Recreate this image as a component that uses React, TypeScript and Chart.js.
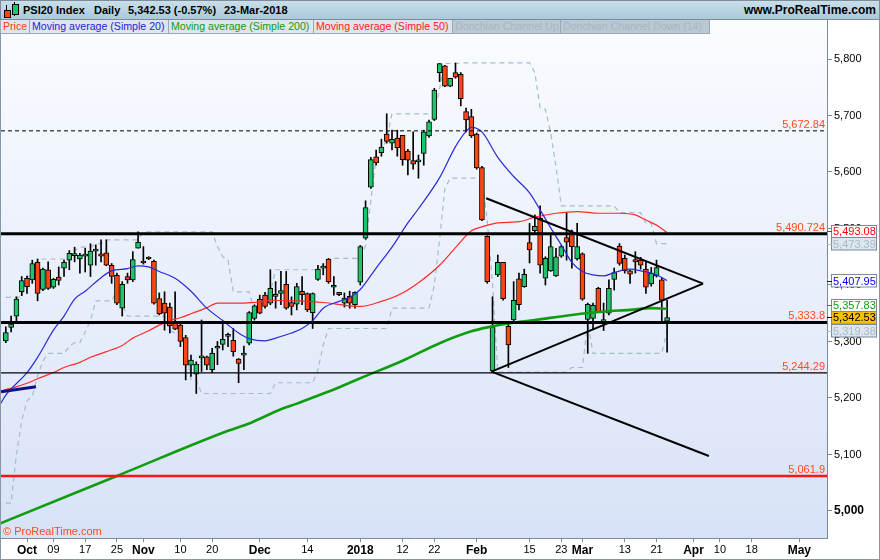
import React, { useEffect, useRef } from 'react';
import { Chart, registerables } from 'chart.js';

Chart.register(...registerables);

const FONT = '"Liberation Sans", Arial, Helvetica, sans-serif';

// Daily sessions: 0 = 26-Sep-2017 ... 125 = 23-Mar-2018
const OPEN = [
  5301, 5325, 5345, 5388, 5412, 5409, 5440, 5392, 5427, 5396,
  5414, 5430, 5444, 5452, 5446, 5451, 5435, 5460, 5455, 5457,
  5435, 5417, 5359, 5415, 5409, 5465, 5442, 5449, 5442, 5376,
  5368, 5361, 5333, 5329, 5307, 5258, 5242, 5271, 5273, 5250,
  5288, 5295, 5309, 5302, 5269, 5276, 5297, 5341, 5375, 5382,
  5368, 5380, 5385, 5401, 5369, 5366, 5389, 5385, 5351, 5410,
  5430, 5446, 5396, 5387, 5368, 5380, 5365, 5405, 5483, 5573,
  5627, 5634, 5667, 5651, 5660, 5665, 5637, 5620, 5618, 5633,
  5664, 5693, 5776, 5788, 5752, 5776, 5773, 5707, 5698, 5667,
  5608, 5486, 5248, 5418, 5440, 5327, 5338, 5411, 5397, 5475,
  5496, 5518, 5412, 5425, 5416, 5451, 5484, 5491, 5446, 5455,
  5339, 5341, 5394, 5333, 5350, 5410, 5469, 5447, 5425, 5445,
  5444, 5428, 5402, 5416, 5409, 5336,
];
const HIGH = [
  5326, 5345, 5379, 5415, 5416, 5444, 5446, 5430, 5441, 5412,
  5432, 5444, 5461, 5467, 5456, 5465, 5473, 5471, 5480, 5480,
  5438, 5421, 5406, 5421, 5459, 5494, 5468, 5450, 5444, 5386,
  5388, 5368, 5388, 5335, 5311, 5276, 5264, 5338, 5274, 5288,
  5300, 5331, 5315, 5323, 5270, 5292, 5353, 5365, 5382, 5387,
  5427, 5406, 5424, 5424, 5379, 5403, 5415, 5386, 5386, 5435,
  5438, 5447, 5415, 5387, 5386, 5389, 5388, 5470, 5549, 5626,
  5639, 5658, 5703, 5674, 5674, 5665, 5640, 5671, 5630, 5674,
  5692, 5748, 5792, 5789, 5766, 5793, 5776, 5713, 5711, 5669,
  5610, 5487, 5379, 5453, 5440, 5333, 5406, 5421, 5428, 5509,
  5524, 5540, 5450, 5488, 5465, 5470, 5528, 5497, 5509, 5457,
  5368, 5368, 5396, 5368, 5409, 5430, 5473.39, 5453, 5427, 5459,
  5449, 5441, 5431, 5444, 5412, 5373,
];
const LOW = [
  5298, 5317, 5337, 5381, 5385, 5403, 5372, 5390, 5392, 5394,
  5400, 5415, 5427, 5441, 5421, 5423, 5415, 5435, 5441, 5434,
  5403, 5365, 5345, 5403, 5406, 5465, 5437, 5445, 5366, 5347,
  5320, 5315, 5321, 5291, 5232, 5238, 5208, 5247, 5250, 5245,
  5259, 5285, 5291, 5274, 5227, 5250, 5294, 5338, 5349, 5359,
  5365, 5359, 5365, 5357, 5347, 5356, 5365, 5353, 5323, 5408,
  5418, 5403, 5382, 5381, 5361, 5359, 5359, 5400, 5481, 5571,
  5612, 5628, 5651, 5639, 5628, 5612, 5595, 5605, 5589, 5612,
  5661, 5691, 5760, 5751, 5751, 5766, 5717, 5671, 5661, 5605,
  5514, 5403, 5246, 5415, 5373, 5254, 5335, 5356, 5396, 5439,
  5491, 5421, 5400, 5424, 5415, 5449, 5444, 5430, 5444, 5373,
  5279, 5322, 5351, 5319.38, 5347, 5391, 5435, 5421, 5403, 5421,
  5428, 5385, 5398, 5414, 5335, 5281,
];
const CLOSE = [
  5316, 5331, 5375, 5408, 5397, 5438, 5385, 5428, 5394, 5410,
  5408, 5440, 5456, 5453, 5453, 5452, 5460, 5461, 5451, 5435,
  5415, 5368, 5401, 5409, 5445, 5476, 5439, 5446, 5368, 5349,
  5350, 5328, 5322, 5300, 5258, 5267, 5260, 5272, 5258, 5279,
  5289, 5304, 5309, 5282, 5261, 5276, 5351, 5363, 5350, 5362,
  5394, 5381, 5390, 5359, 5362, 5397, 5383, 5356, 5385, 5428,
  5430, 5406, 5396, 5383, 5377, 5368, 5387, 5468, 5537, 5622,
  5616, 5644, 5654, 5658, 5643, 5622, 5621, 5614, 5618, 5671,
  5689, 5745, 5792, 5752, 5766, 5768, 5730, 5692, 5664, 5607,
  5515, 5406, 5326, 5440, 5376, 5294, 5373, 5365, 5419, 5462,
  5504, 5435, 5447, 5468, 5450, 5468, 5476, 5468, 5468, 5375,
  5366, 5364, 5353, 5339, 5394, 5422, 5438, 5425, 5419, 5441,
  5435, 5396, 5421, 5431, 5373, 5342.53,
];

// Donchian channel (14), one value per session
const DONCHIAN_UP = [
  5378, 5378, 5378, 5379, 5415, 5416, 5444, 5446, 5446, 5446,
  5446, 5446, 5446, 5461, 5467, 5467, 5467, 5473, 5473, 5480,
  5480, 5480, 5480, 5480, 5480, 5480, 5494, 5494, 5494, 5494,
  5494, 5494, 5494, 5494, 5494, 5494, 5494, 5494, 5494, 5494,
  5468, 5450, 5444, 5388, 5388, 5388, 5388, 5353, 5365, 5382,
  5387, 5427, 5427, 5427, 5427, 5427, 5427, 5427, 5427, 5427,
  5435, 5438, 5447, 5447, 5447, 5447, 5447, 5447, 5470, 5549,
  5626, 5639, 5658, 5703, 5703, 5703, 5703, 5703, 5703, 5703,
  5703, 5703, 5748, 5792, 5792, 5792, 5793, 5793, 5793, 5793,
  5793, 5793, 5793, 5793, 5793, 5793, 5793, 5793, 5793, 5793,
  5776, 5713, 5711, 5669, 5610, 5540, 5540, 5540, 5540, 5540,
  5540, 5540, 5540, 5540, 5540, 5540, 5528, 5528, 5528, 5528,
  5528, 5509, 5509, 5473.39, 5473.39, 5473.39,
];
const DONCHIAN_DOWN = [
  5014, 5014, 5100, 5160, 5195, 5203, 5240, 5265, 5279, 5279,
  5279, 5279, 5291, 5298, 5298, 5317, 5337, 5372, 5372, 5372,
  5372, 5390, 5365, 5345, 5345, 5345, 5345, 5345, 5345, 5345,
  5345, 5320, 5315, 5315, 5291, 5232, 5232, 5208, 5208, 5208,
  5208, 5208, 5208, 5208, 5208, 5208, 5208, 5208, 5208, 5208,
  5208, 5227, 5227, 5227, 5227, 5227, 5227, 5227, 5227, 5250,
  5294, 5323, 5323, 5323, 5323, 5323, 5323, 5323, 5323, 5323,
  5323, 5323, 5323, 5359, 5359, 5359, 5359, 5359, 5359, 5359,
  5359, 5400, 5481, 5571, 5589, 5589, 5589, 5589, 5589, 5589,
  5589, 5514, 5403, 5246, 5246, 5246, 5246, 5246, 5246, 5246,
  5246, 5246, 5246, 5246, 5246, 5246, 5246, 5254, 5254, 5254,
  5335, 5279, 5279, 5279, 5279, 5279, 5279, 5279, 5279, 5279,
  5279, 5279, 5279, 5279, 5279, 5319.38,
];

// Moving averages, [session, value]
const SMA20: [number, number][] = [
  [-1, 5190], [0, 5205], [1, 5216], [4, 5245], [6, 5272], [9, 5320], [11, 5345],
  [13, 5375], [15, 5389], [18, 5413], [20, 5425], [23, 5429], [25, 5434], [27, 5432],
  [29, 5424], [32, 5412], [35, 5389], [38, 5359], [41, 5337], [44, 5315], [46, 5305],
  [49, 5301], [51, 5306], [54, 5315], [56, 5323], [58, 5337], [60, 5359], [63, 5371],
  [65, 5378], [67, 5392], [70, 5430], [73, 5467], [76, 5510], [78, 5535], [82, 5590],
  [85, 5645], [87, 5672], [88, 5679], [90, 5671], [93, 5626], [96, 5592], [99, 5563],
  [101, 5533], [103, 5501], [105, 5471], [107, 5440], [109, 5424], [111, 5418],
  [113, 5416], [115, 5422], [118, 5428], [120, 5425], [123, 5418], [125, 5407.95],
];
const SMA50: [number, number][] = [
  [-1, 5212], [0, 5215], [1, 5217], [4, 5226], [6, 5234], [9, 5245], [11, 5254],
  [14, 5263], [16, 5272], [19, 5282], [22, 5293], [24, 5306], [27, 5319], [29, 5329],
  [31, 5337], [33, 5342], [35, 5349], [38, 5360], [40, 5368], [45, 5368], [48, 5370],
  [50, 5373], [55, 5372], [60, 5369], [65, 5363], [67, 5362], [71, 5371], [75, 5386],
  [78, 5404], [82, 5435], [85, 5466], [88, 5496], [90, 5503], [93, 5510], [97, 5512],
  [100, 5520], [104, 5527], [108, 5530], [112, 5527], [116, 5527], [119, 5524],
  [121, 5515], [123, 5506], [125, 5493.08],
];
const SMA200: [number, number][] = [
  [-1, 4978], [0, 4982], [21, 5062], [42, 5142], [46, 5155], [52, 5180], [55, 5190],
  [58, 5201], [62, 5215], [65, 5227], [67, 5235], [75, 5266], [82, 5297], [88, 5318],
  [91, 5325], [95, 5332], [100, 5338], [107, 5347], [113, 5353], [118, 5356],
  [122, 5359], [125, 5357.83],
];

// Horizontal levels
const LEVEL_VALUES = [5672.84, 5490.724, 5333.8, 5244.29, 5061.9];
const LEVEL_LABELS = ['5,672.84', '5,490.724', '5,333.8', '5,244.29', '5,061.9'];

// Trend lines, [session, value] end points
const TRIANGLE_TOP: [number, number][] = [[90.8, 5553.5], [131.8, 5402.5]];
const TRIANGLE_BOTTOM: [number, number][] = [[91.8, 5246.6], [131.8, 5402.5]];
const LOWER_RAY: [number, number][] = [[91.8, 5246.6], [132.9, 5097.4]];
const OLD_TREND: [number, number][] = [[-0.9, 5211], [5.7, 5220]];

// Axis ticks
const X_TICK_AT = [4, 9, 15, 21, 26, 33, 39, 48, 57, 67, 75, 81, 89, 99, 105, 109, 117, 123, 130, 135, 141, 150];
const X_TICK_TEXT = ['Oct', '09', '17', '25', 'Nov', '10', '20', 'Dec', '14', '2018', '12', '22', 'Feb', '15', '23', 'Mar', '13', '21', 'Apr', '10', '18', 'May'];
const Y_TICKS = [5000, 5100, 5200, 5300, 5400, 5500, 5600, 5700, 5800];

// Right-axis value tags
const TAG_VALUES = [5493.08, 5473.39, 5407.95, 5357.83, CLOSE[CLOSE.length - 1], 5319.38];
const TAG_TEXT = ['5,493.08', '5,473.39', '5,407.95', '5,357.83', '5,342.53', '5,319.38'];

const X_MIN = -0.915;
const X_MAX = 155.23;
const Y_MIN = 4952.2;
const Y_MAX = 5869.03;

const GREEN = '#1ec36c';
const RED = '#ff4414';
const LABEL_RED = '#ff4a1c';
const DON_COLOR = '#a5bccb';

const TAG_STYLE = [
  { text: '#ff0000', fill: '#ffffff' },
  { text: '#a6bccb', fill: '#dde6ee' },
  { text: '#0000ee', fill: '#ffffff' },
  { text: '#109a10', fill: '#ffffff' },
  { text: '#000000', fill: '#f6c100' },
  { text: '#a6bccb', fill: '#dde6ee' },
];
const LEVEL_STYLE = [
  { color: '#000000', width: 1, dash: [4, 3] },
  { color: '#000000', width: 3, dash: [] },
  { color: '#000000', width: 3, dash: [] },
  { color: '#000000', width: 1.3, dash: [] },
  { color: '#ff1414', width: 2.5, dash: [] },
];

const pts = (arr: [number, number][]) => arr.map(([x, y]) => ({ x, y }));

const paintPlugin = {
  id: 'paint',
  beforeDraw(chart: any) {
    const { ctx, chartArea: a, width, height } = chart;
    ctx.save();
    ctx.fillStyle = '#ffffff';
    ctx.fillRect(0, 0, width, height);
    const g = ctx.createLinearGradient(0, a.top, 0, a.bottom);
    g.addColorStop(0, '#fafcff');
    g.addColorStop(1, '#d8e2f7');
    ctx.fillStyle = g;
    ctx.fillRect(a.left, a.top, a.right - a.left, a.bottom - a.top);
    ctx.restore();
  },
  afterDraw(chart: any) {
    const { ctx, chartArea: a, width, height } = chart;
    const y = chart.scales.y;
    ctx.save();
    ctx.font = `11px ${FONT}`;
    ctx.fillStyle = LABEL_RED;
    ctx.textAlign = 'right';
    ctx.textBaseline = 'alphabetic';
    LEVEL_VALUES.forEach((v, k) => {
      ctx.fillText(LEVEL_LABELS[k], a.right - 2, y.getPixelForValue(v) - 3);
    });
    ctx.textAlign = 'left';
    ctx.fillText('\u00a9 ProRealTime.com', a.left + 2, a.bottom - 3);

    // value tags on the price axis
    const H = 12.5;
    const pos = TAG_VALUES.map((v) => y.getPixelForValue(v));
    const pinned = 4;
    const ids = pos.map((_, k) => k);
    const above = ids.filter((k) => k !== pinned && pos[k] < pos[pinned]).sort((p, q) => pos[q] - pos[p]);
    let lim = pos[pinned] - H;
    above.forEach((k) => { if (pos[k] > lim) pos[k] = lim; lim = pos[k] - H; });
    const below = ids.filter((k) => k !== pinned && pos[k] >= pos[pinned]).sort((p, q) => pos[p] - pos[q]);
    lim = pos[pinned] + H;
    below.forEach((k) => { if (pos[k] < lim) pos[k] = lim; lim = pos[k] + H; });

    ctx.textBaseline = 'middle';
    ctx.font = `11px ${FONT}`;
    ids.forEach((k) => {
      const cy = pos[k];
      const st = TAG_STYLE[k];
      ctx.fillStyle = st.fill;
      ctx.fillRect(a.right + 4.5, Math.round(cy - H / 2) + 0.5, 45, H);
      ctx.strokeStyle = '#7b8b9b';
      ctx.lineWidth = 1;
      ctx.strokeRect(a.right + 4.5, Math.round(cy - H / 2) + 0.5, 45, H);
      ctx.strokeStyle = st.text;
      ctx.beginPath();
      ctx.moveTo(a.right, Math.round(cy) + 0.5);
      ctx.lineTo(a.right + 5, Math.round(cy) + 0.5);
      ctx.stroke();
      ctx.fillStyle = st.text;
      ctx.fillText(TAG_TEXT[k], a.right + 6, Math.round(cy) + 1);
    });

    // outer frame
    ctx.strokeStyle = '#8797a6';
    ctx.lineWidth = 1;
    ctx.strokeRect(0.5, 0.5, width - 1, height - 1);
    ctx.restore();
  },
};

export default function App() {
  const ref = useRef<HTMLCanvasElement | null>(null);

  useEffect(() => {
    if (!ref.current) return;
    const idx = OPEN.map((_, i) => i);
    const datasets: any[] = [];

    LEVEL_VALUES.forEach((v, k) => {
      datasets.push({
        type: 'line',
        data: [{ x: X_MIN, y: v }, { x: X_MAX, y: v }],
        borderColor: LEVEL_STYLE[k].color,
        borderWidth: LEVEL_STYLE[k].width,
        borderDash: LEVEL_STYLE[k].dash,
        pointRadius: 0,
        order: 0,
      });
    });
    [TRIANGLE_TOP, TRIANGLE_BOTTOM, LOWER_RAY].forEach((line) => {
      datasets.push({
        type: 'line', data: pts(line), borderColor: '#000000', borderWidth: 2,
        pointRadius: 0, order: 0,
      });
    });
    datasets.push({
      type: 'line', data: pts(OLD_TREND), borderColor: '#10108a', borderWidth: 3,
      pointRadius: 0, order: 0,
    });

    datasets.push({
      type: 'line', data: pts(SMA20), borderColor: '#2a2ad8', borderWidth: 1.2,
      pointRadius: 0, cubicInterpolationMode: 'monotone', order: 1,
    });
    datasets.push({
      type: 'line', data: pts(SMA50), borderColor: '#ff2a2a', borderWidth: 1.2,
      pointRadius: 0, cubicInterpolationMode: 'monotone', order: 1,
    });
    datasets.push({
      type: 'line', data: pts(SMA200), borderColor: '#0f9c0f', borderWidth: 2.6,
      pointRadius: 0, cubicInterpolationMode: 'monotone', order: 1,
    });

    datasets.push({
      type: 'bar',
      data: idx.map((i) => ({ x: i, y: [OPEN[i], CLOSE[i]] })),
      backgroundColor: idx.map((i) => (CLOSE[i] >= OPEN[i] ? GREEN : RED)),
      borderColor: '#000000',
      borderWidth: 1,
      borderSkipped: false,
      barThickness: 5,
      minBarLength: 2,
      grouped: false,
      order: 2,
    });
    datasets.push({
      type: 'bar',
      data: idx.map((i) => ({ x: i, y: [LOW[i], HIGH[i]] })),
      backgroundColor: '#000000',
      borderWidth: 0,
      barThickness: 1,
      grouped: false,
      order: 3,
    });

    [DONCHIAN_UP, DONCHIAN_DOWN].forEach((arr) => {
      datasets.push({
        type: 'line',
        data: arr.map((v, i) => ({ x: i, y: v })),
        borderColor: DON_COLOR,
        borderWidth: 1.2,
        borderDash: [5, 4],
        pointRadius: 0,
        order: 4,
      });
    });

    const chart = new Chart(ref.current, {
      type: 'bar',
      data: { datasets },
      plugins: [paintPlugin],
      options: {
        responsive: false,
        animation: false,
        devicePixelRatio: 1,
        events: [],
        layout: { padding: { top: 20, left: 1, right: 0, bottom: 0 } },
        plugins: { legend: { display: false }, tooltip: { enabled: false }, title: { display: false } },
        scales: {
          x: {
            type: 'linear',
            min: X_MIN,
            max: X_MAX,
            offset: false,
            afterBuildTicks: (scale: any) => { scale.ticks = X_TICK_AT.map((v) => ({ value: v })); },
            afterFit: (scale: any) => { scale.height = 22; },
            grid: { display: true, drawOnChartArea: false, drawTicks: true, tickLength: 4, color: '#7b8b9b', offset: false },
            border: { display: true, color: '#7b8b9b' },
            ticks: {
              autoSkip: false,
              maxRotation: 0,
              minRotation: 0,
              padding: 1,
              color: '#000000',
              font: (c: any) => {
                const t = X_TICK_TEXT[c.index] || '';
                const bold = !/^\d{2}$/.test(t);
                return { family: FONT, size: bold ? 12 : 11, weight: bold ? 'bold' : 'normal' };
              },
              callback: (_v: any, i: number) => X_TICK_TEXT[i],
            },
          },
          y: {
            type: 'linear',
            position: 'right',
            min: Y_MIN,
            max: Y_MAX,
            afterBuildTicks: (scale: any) => { scale.ticks = Y_TICKS.map((v) => ({ value: v })); },
            afterFit: (scale: any) => { scale.width = 53; },
            grid: { display: true, drawOnChartArea: false, drawTicks: true, tickLength: 5, color: '#7b8b9b' },
            border: { display: true, color: '#7b8b9b' },
            ticks: {
              padding: 2,
              color: '#000000',
              font: (c: any) => {
                const bold = c.tick && c.tick.value === 5000;
                return { family: FONT, size: bold ? 12 : 11, weight: bold ? 'bold' : 'normal' };
              },
              callback: (v: any) => Number(v).toLocaleString('en-US'),
            },
          },
        },
      } as any,
    });
    return () => chart.destroy();
  }, []);

  const legendBox = (left: number, width: number, bg: string, color: string, text: string) => (
    <div
      style={{
        position: 'absolute', left, top: 20, width, height: 14, boxSizing: 'border-box',
        background: bg, border: '1px solid #9aa9b5', borderTop: 'none',
        color, fontSize: 10.6, lineHeight: '13px', paddingLeft: 2, whiteSpace: 'nowrap', overflow: 'hidden',
      }}
    >
      {text}
    </div>
  );

  return (
    <div style={{ position: 'absolute', left: 0, top: 0, width: 880, height: 560, overflow: 'hidden', fontFamily: FONT }}>
      <canvas ref={ref} width={880} height={560} style={{ display: 'block', width: 880, height: 560 }} />
      <div
        style={{
          position: 'absolute', left: 0, top: 0, width: 880, height: 20, boxSizing: 'border-box',
          background: 'linear-gradient(#c9dfea, #abc9da)', border: '1px solid #7d8d9b',
          fontWeight: 'bold', fontSize: 11, color: '#000',
        }}
      >
        <div style={{ position: 'absolute', left: 5, top: 4, width: 1, height: 13, background: '#000' }} />
        <div style={{ position: 'absolute', left: 3, top: 9, width: 5, height: 6, background: RED, border: '1px solid #000' }} />
        <div style={{ position: 'absolute', left: 13, top: 1, width: 1, height: 14, background: '#000' }} />
        <div style={{ position: 'absolute', left: 11, top: 3, width: 5, height: 9, background: GREEN, border: '1px solid #000' }} />
        <span style={{ position: 'absolute', left: 22, top: 3 }}>PSI20 Index</span>
        <span style={{ position: 'absolute', left: 93, top: 3 }}>Daily</span>
        <span style={{ position: 'absolute', left: 127, top: 3 }}>5,342.53 (-0.57%)</span>
        <span style={{ position: 'absolute', left: 223, top: 3 }}>23-Mar-2018</span>
        <span style={{ position: 'absolute', right: 3, top: 2, fontSize: 12 }}>www.ProRealTime.com</span>
      </div>
      {legendBox(0, 30, '#dfe5ec', '#ee4422', 'Price')}
      {legendBox(29, 140, '#dfe5ec', '#2424d8', 'Moving average (Simple 20)')}
      {legendBox(168, 146, '#dfe5ec', '#139a13', 'Moving average (Simple 200)')}
      {legendBox(313, 140, '#dfe5ec', '#ff1a1a', 'Moving average (Simple 50)')}
      {legendBox(452, 109, '#bac8d3', '#a4b7c5', 'Donchian Channel Up')}
      {legendBox(560, 150, '#bac8d3', '#a4b7c5', 'Donchian Channel Down (14)')}
    </div>
  );
}
